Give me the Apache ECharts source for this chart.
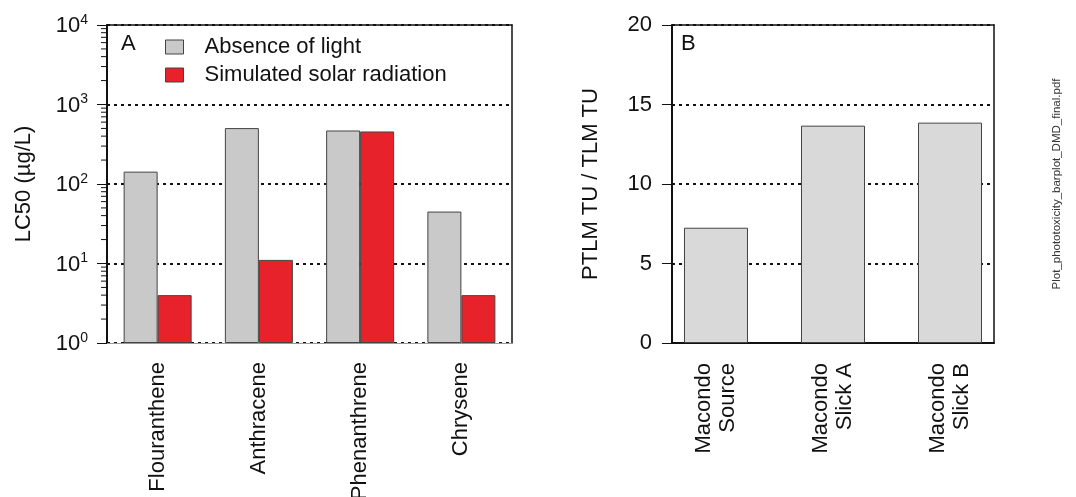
<!DOCTYPE html>
<html>
<head>
<meta charset="utf-8">
<script src="https://cdn.jsdelivr.net/npm/echarts@6/dist/echarts.min.js"></script>
<style>
html,body{margin:0;padding:0;background:#fff;}
#chart{width:1076px;height:497px;}
</style>
</head>
<body>
<div id="chart"></div>
<script>
// Panel A data
var compounds = ['Flouranthene', 'Anthracene', 'Phenanthrene', 'Chrysene'];
var darkValues = [143, 505, 471, 45];
var lightValues = [4.0, 11.1, 458, 4.0];
var seriesNames = ['Absence of light', 'Simulated solar radiation'];
var logMinorTicks = [2,3,4,5,6,7,8,9,20,30,40,50,60,70,80,90,200,300,400,500,600,700,800,900,2000,3000,4000,5000,6000,7000,8000,9000];

// Panel B data
var samples = ['Macondo\nSource', 'Macondo\nSlick A', 'Macondo\nSlick B'];
var ratioValues = [7.25, 13.67, 13.86];
var ratioTicks = [0, 5, 10, 15, 20];

var FONT = 'Liberation Sans, Arial, sans-serif';
var TXT = '#111';

var chart = echarts.init(document.getElementById('chart'), null, {renderer: 'canvas'});

var dotted = {show: true, lineStyle: {color: '#111', width: 2, type: [3, 4]}};

var option = {
  animation: false,
  backgroundColor: '#fff',
  textStyle: {fontFamily: FONT},
  grid: [
    {left: 107, top: 25, width: 405, height: 318, outerBoundsMode: 'none', containLabel: false},
    {left: 672, top: 25, width: 322, height: 318, outerBoundsMode: 'none', containLabel: false}
  ],
  legend: {
    orient: 'vertical',
    left: 160, top: 31,
    itemWidth: 18, itemHeight: 14, itemGap: 6,
    icon: 'rect',
    data: seriesNames,
    textStyle: {fontSize: 22, color: TXT, fontFamily: FONT, lineHeight: 22, padding: [0, 0, 0, 16]},
    itemStyle: {borderColor: '#444', borderWidth: 1}
  },
  xAxis: [
    {
      gridIndex: 0, type: 'category', data: compounds,
      axisLine: {show: true, lineStyle: {color: '#999', width: 1}},
      axisTick: {show: false},
      axisLabel: {rotate: 90, fontSize: 22, color: TXT, margin: 19, fontFamily: FONT}
    },
    {
      gridIndex: 0, type: 'category', data: compounds, position: 'top',
      axisLine: {show: true, lineStyle: {color: '#111', width: 1.5}},
      axisTick: {show: false}, axisLabel: {show: false}
    },
    {
      gridIndex: 1, type: 'value', min: -0.376, max: 2.376,
      axisLine: {show: true, onZero: false, lineStyle: {color: '#111', width: 2}},
      axisTick: {show: false},
      splitLine: {show: false},
      axisLabel: {
        customValues: [0, 1, 2],
        rotate: 90, fontSize: 22, color: TXT, margin: 20, fontFamily: FONT, lineHeight: 24,
        formatter: function (v) { return samples[Math.round(v)] || ''; }
      }
    },
    {
      gridIndex: 1, type: 'value', min: -0.376, max: 2.376, position: 'top',
      axisLine: {show: true, onZero: false, lineStyle: {color: '#111', width: 1.5}},
      axisTick: {show: false}, axisLabel: {show: false}, splitLine: {show: false}
    }
  ],
  yAxis: [
    {
      gridIndex: 0, type: 'log', logBase: 10, min: 1, max: 10000,
      name: 'LC50 (\u00b5g/L)', nameLocation: 'middle', nameGap: 72, nameRotate: 90,
      nameTextStyle: {fontSize: 22, color: TXT, fontFamily: FONT},
      axisLine: {show: true, onZero: false, lineStyle: {color: '#111', width: 2}},
      axisTick: {show: true, length: 10, lineStyle: {color: '#111', width: 1}},
      splitLine: dotted,
      axisLabel: {
        margin: 19, color: TXT, fontFamily: FONT,
        formatter: function (v) { return '{b|10}{s|' + Math.round(Math.log10(v)) + '}'; },
        rich: {
          b: {fontSize: 22, color: TXT, fontFamily: FONT, lineHeight: 24, verticalAlign: 'bottom'},
          s: {fontSize: 14, color: TXT, fontFamily: FONT, verticalAlign: 'top', lineHeight: 24, padding: [0, 0, 6, 0]}
        }
      }
    },
    {
      gridIndex: 0, type: 'log', logBase: 10, min: 1, max: 10000, position: 'right',
      axisLine: {show: true, onZero: false, lineStyle: {color: '#111', width: 1.5}},
      axisTick: {show: false}, axisLabel: {show: false}, splitLine: {show: false}
    },
    {
      gridIndex: 1, type: 'value', min: ratioTicks[0], max: ratioTicks[ratioTicks.length - 1], interval: 5,
      name: 'PTLM TU / TLM TU', nameLocation: 'middle', nameGap: 70, nameRotate: 90,
      nameTextStyle: {fontSize: 22, color: TXT, fontFamily: FONT},
      axisLine: {show: true, onZero: false, lineStyle: {color: '#111', width: 2}},
      axisTick: {show: true, length: 10, lineStyle: {color: '#111', width: 1}},
      splitLine: dotted,
      axisLabel: {margin: 20, fontSize: 22, color: TXT, fontFamily: FONT}
    },
    {
      gridIndex: 1, type: 'value', min: 0, max: 20, interval: 5, position: 'right',
      axisLine: {show: true, onZero: false, lineStyle: {color: '#111', width: 1.5}},
      axisTick: {show: false}, axisLabel: {show: false}, splitLine: {show: false}
    }
  ],
  series: [
    {
      name: seriesNames[0], type: 'bar', xAxisIndex: 0, yAxisIndex: 0,
      data: darkValues, barWidth: 34, barGap: '0%',
      itemStyle: {color: '#c9c9c9', borderColor: '#444', borderWidth: 1}
    },
    {
      name: seriesNames[1], type: 'bar', xAxisIndex: 0, yAxisIndex: 0,
      data: lightValues, barWidth: 34, barGap: '0%',
      itemStyle: {color: '#e8222a', borderColor: '#444', borderWidth: 1}
    },
    {
      name: 'ratio', type: 'bar', xAxisIndex: 2, yAxisIndex: 2,
      data: ratioValues.map(function (v, i) { return [i, v]; }),
      barWidth: 64,
      itemStyle: {color: '#d9d9d9', borderColor: '#444', borderWidth: 1}
    },
    {
      name: 'minorTicks', type: 'custom', coordinateSystem: 'cartesian2d', xAxisIndex: 0, yAxisIndex: 0,
      silent: true, clip: false, z: 10,
      data: logMinorTicks.map(function (v) { return [0, v]; }),
      encode: {x: 0, y: 1},
      renderItem: function (params, api) {
        var pt = api.coord([0, api.value(1)]);
        var x0 = params.coordSys.x;
        return {type: 'line', shape: {x1: x0 - 6, y1: pt[1], x2: x0, y2: pt[1]}, style: {stroke: '#111', lineWidth: 1}};
      }
    }
  ],
  graphic: [
    {type: 'text', left: 121, top: 33, style: {text: 'A', font: '22px ' + FONT, fill: TXT}},
    {type: 'text', left: 681, top: 33, style: {text: 'B', font: '22px ' + FONT, fill: TXT}},
    {type: 'text', x: 1057, y: 184, rotation: Math.PI / 2,
     style: {text: 'Plot_phototoxicity_barplot_DMD_final.pdf', font: '11.5px ' + FONT, fill: '#333', align: 'center', verticalAlign: 'middle'}}
  ]
};
chart.setOption(option);
</script>
</body>
</html>
